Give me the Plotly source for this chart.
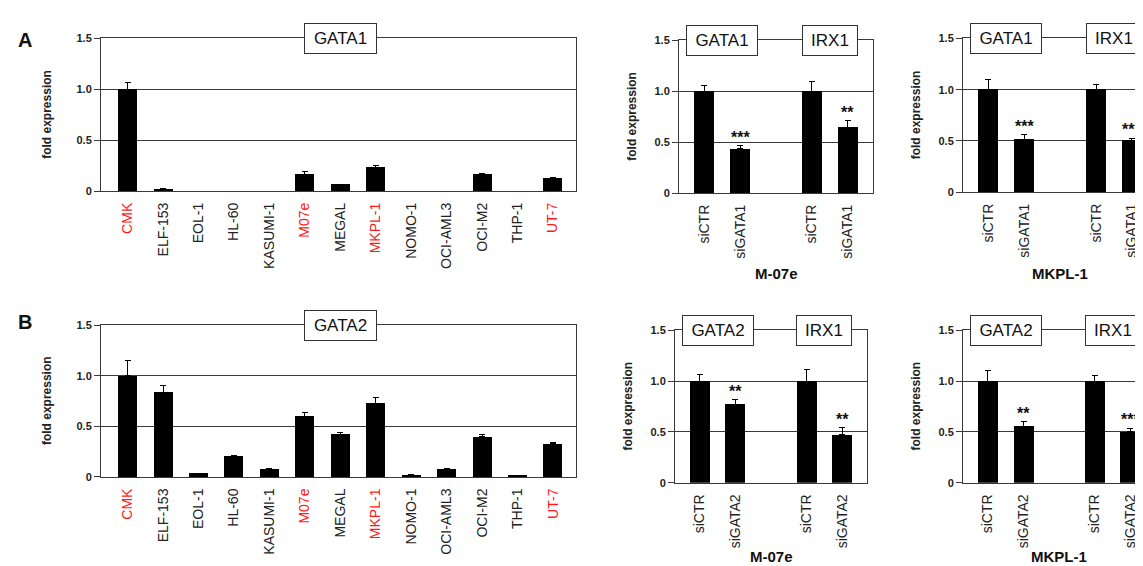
import plotly.graph_objects as go

# ---------------- data ----------------
cell_lines = ["CMK", "ELF-153", "EOL-1", "HL-60", "KASUMI-1", "M07e", "MEGAL",
              "MKPL-1", "NOMO-1", "OCI-AML3", "OCI-M2", "THP-1", "UT-7"]
highlight_lines = ["CMK", "M07e", "MKPL-1", "UT-7"]

gata1_expr = [1.0, 0.02, 0.0, 0.0, 0.0, 0.165, 0.065, 0.235, 0.0, 0.0, 0.165, 0.0, 0.128]
gata1_err = [0.07, 0.003, 0.0, 0.0, 0.0, 0.025, 0.003, 0.015, 0.0, 0.0, 0.007, 0.0, 0.007]

gata2_expr = [1.0, 0.837, 0.032, 0.205, 0.08, 0.60, 0.423, 0.731, 0.016, 0.08, 0.397, 0.016, 0.327]
gata2_err = [0.147, 0.07, 0.003, 0.006, 0.007, 0.035, 0.02, 0.054, 0.006, 0.007, 0.026, 0.002, 0.009]

genes_A = ["GATA1", "IRX1"]
genes_B = ["GATA2", "IRX1"]
conds_A = ["siCTR", "siGATA1"]
conds_B = ["siCTR", "siGATA2"]

m07e_A_vals = [1.0, 0.434, 1.0, 0.648]
m07e_A_err = [0.056, 0.032, 0.098, 0.064]
m07e_A_sig = ["", "***", "", "**"]

mkpl_A_vals = [1.0, 0.518, 1.0, 0.50]
mkpl_A_err = [0.096, 0.042, 0.055, 0.028]
mkpl_A_sig = ["", "***", "", "***"]

m07e_B_vals = [1.0, 0.771, 1.0, 0.473]
m07e_B_err = [0.062, 0.044, 0.11, 0.067]
m07e_B_sig = ["", "**", "", "**"]

mkpl_B_vals = [1.0, 0.556, 1.0, 0.50]
mkpl_B_err = [0.10, 0.044, 0.055, 0.034]
mkpl_B_sig = ["", "**", "", "***"]

y_ticks = [0, 0.5, 1.0, 1.5]
y_ticktext = ["0", "0.5", "1.0", "1.5"]

# ---------------- layout helpers ----------------
W, H = 1143, 566
FONT = "Arial, Liberation Sans, sans-serif"
LINE = "#3a3a3a"


def px_x(a, b):
    return [a / W, b / W]


def px_y(top, bottom):
    return [1 - bottom / H, 1 - top / H]


fig = go.Figure()
annotations = []

panels = [
    dict(i=1, kind="lines", xd=(93, 568), yd=(25, 181), xr=[-0.75, 12.65],
         vals=gata1_expr, err=gata1_err, gene="GATA1"),
    dict(i=2, kind="kd", xd=(671, 865), yd=(27, 183), xr=[-0.7, 4.7],
         vals=m07e_A_vals, err=m07e_A_err, sig=m07e_A_sig, genes=genes_A,
         conds=conds_A, cell="M-07e", mirror_y=True),
    dict(i=3, kind="kd", xd=(955, 1143), yd=(25, 182), xr=[-0.7, 4.53],
         vals=mkpl_A_vals, err=mkpl_A_err, sig=mkpl_A_sig, genes=genes_A,
         conds=conds_A, cell="MKPL-1", mirror_y=False),
    dict(i=4, kind="lines", xd=(93, 568), yd=(318, 473), xr=[-0.75, 12.65],
         vals=gata2_expr, err=gata2_err, gene="GATA2"),
    dict(i=5, kind="kd", xd=(667, 859), yd=(323, 479), xr=[-0.7, 4.7],
         vals=m07e_B_vals, err=m07e_B_err, sig=m07e_B_sig, genes=genes_B,
         conds=conds_B, cell="M-07e", mirror_y=True),
    dict(i=6, kind="kd", xd=(955, 1143), yd=(323, 479), xr=[-0.7, 4.58],
         vals=mkpl_B_vals, err=mkpl_B_err, sig=mkpl_B_sig, genes=genes_B,
         conds=conds_B, cell="MKPL-1", mirror_y=False),
]


def box_annot(text, x, xref, yref, w):
    return dict(text=text, x=x, y=1.5, xref=xref, yref=yref, showarrow=False,
                font=dict(family=FONT, size=17, color="#111"),
                bgcolor="white", bordercolor="#333", borderwidth=1,
                borderpad=2, width=w, height=25, xanchor="center", yanchor="middle")


for p in panels:
    i = p["i"]
    xa = "x" if i == 1 else f"x{i}"
    ya = "y" if i == 1 else f"y{i}"
    xkey = "xaxis" if i == 1 else f"xaxis{i}"
    ykey = "yaxis" if i == 1 else f"yaxis{i}"

    if p["kind"] == "lines":
        xpos = list(range(len(cell_lines)))
        ticktext = [
            f"<span style='color:#ff1a1a'>{c}</span>" if c in highlight_lines else c
            for c in cell_lines
        ]
        bar_w = 0.535
        tick_size = 14
    else:
        xpos = [g * 3 + c for g in range(len(p["genes"])) for c in range(len(p["conds"]))]
        ticktext = [c for g in p["genes"] for c in p["conds"]]
        bar_w = 0.56
        tick_size = 14

    fig.add_trace(go.Bar(
        x=xpos, y=p["vals"], width=bar_w, xaxis=xa, yaxis=ya,
        marker=dict(color="black", line=dict(width=0)),
        error_y=dict(type="data", symmetric=False, array=p["err"],
                     arrayminus=[0] * len(p["vals"]), color="black",
                     thickness=1, width=3),
        showlegend=False, hoverinfo="skip",
    ))

    fig.layout[xkey] = dict(
        domain=px_x(*p["xd"]), range=p["xr"], anchor=ya,
        tickmode="array", tickvals=xpos, ticktext=ticktext, tickangle=-90,
        tickfont=dict(family=FONT, size=tick_size, color="#222"),
        ticks="", showgrid=False, zeroline=False,
        showline=True, linecolor=LINE, linewidth=1, mirror=True,
        ticklabelstandoff=5, fixedrange=True,
    )
    fig.layout[ykey] = dict(
        domain=px_y(*p["yd"]), range=[0, 1.5], anchor=xa,
        tickmode="array", tickvals=y_ticks, ticktext=y_ticktext,
        tickfont=dict(family=FONT, size=11, color="#222", weight="bold"),
        ticks="outside", ticklen=6, tickcolor=LINE,
        showgrid=True, gridcolor=LINE, gridwidth=1, zeroline=False,
        showline=True, linecolor=LINE, linewidth=1,
        mirror=True if p["kind"] == "lines" else p["mirror_y"],
        fixedrange=True,
    )

    ymid = 1 - ((p["yd"][0] + p["yd"][1]) / 2) / H
    title_x = (p["xd"][0] - 54) / W if p["kind"] == "lines" else (p["xd"][0] - 47) / W
    annotations.append(dict(
        text="fold expression", x=title_x, y=ymid, xref="paper", yref="paper",
        textangle=-90, showarrow=False, xanchor="center", yanchor="middle",
        font=dict(family=FONT, size=12, color="#222", weight="bold"),
    ))

    if p["kind"] == "lines":
        mid = (len(cell_lines) - 1) / 2
        annotations.append(box_annot(p["gene"], mid, xa, ya, 67))
    else:
        for g, gene in enumerate(p["genes"]):
            center = g * 3 + (len(p["conds"]) - 1) / 2
            annotations.append(box_annot(gene, center, xa, ya,
                                         66 if gene.startswith("GATA") else 50))
        for xv, v, e, s in zip(xpos, p["vals"], p["err"], p["sig"]):
            if s:
                annotations.append(dict(
                    text=s, x=xv, y=v + e, xref=xa, yref=ya, showarrow=False,
                    xanchor="center", yanchor="bottom", yshift=-2,
                    font=dict(family=FONT, size=16, color="#111", weight="bold"),
                ))
        unit_px = (p["xd"][1] - p["xd"][0]) / (p["xr"][1] - p["xr"][0])
        cx = p["xd"][0] + 2.7 * unit_px
        cy = 265 if p["yd"][0] < 200 else 554
        annotations.append(dict(
            text=p["cell"], x=cx / W, y=1 - cy / H, xref="paper", yref="paper",
            showarrow=False, xanchor="center", yanchor="middle",
            font=dict(family=FONT, size=15, color="#111", weight="bold"),
        ))

for letter, ypx in [("A", 27), ("B", 315)]:
    annotations.append(dict(
        text=letter, x=17 / W, y=1 - ypx / H, xref="paper", yref="paper",
        showarrow=False, xanchor="center", yanchor="middle",
        font=dict(family=FONT, size=20, color="#111", weight="bold"),
    ))

fig.update_layout(
    width=W, height=H, autosize=False,
    margin=dict(l=0, r=0, t=0, b=0),
    paper_bgcolor="white", plot_bgcolor="white",
    bargap=0, annotations=annotations,
    font=dict(family=FONT),
)

fig.write_html("out.html")
